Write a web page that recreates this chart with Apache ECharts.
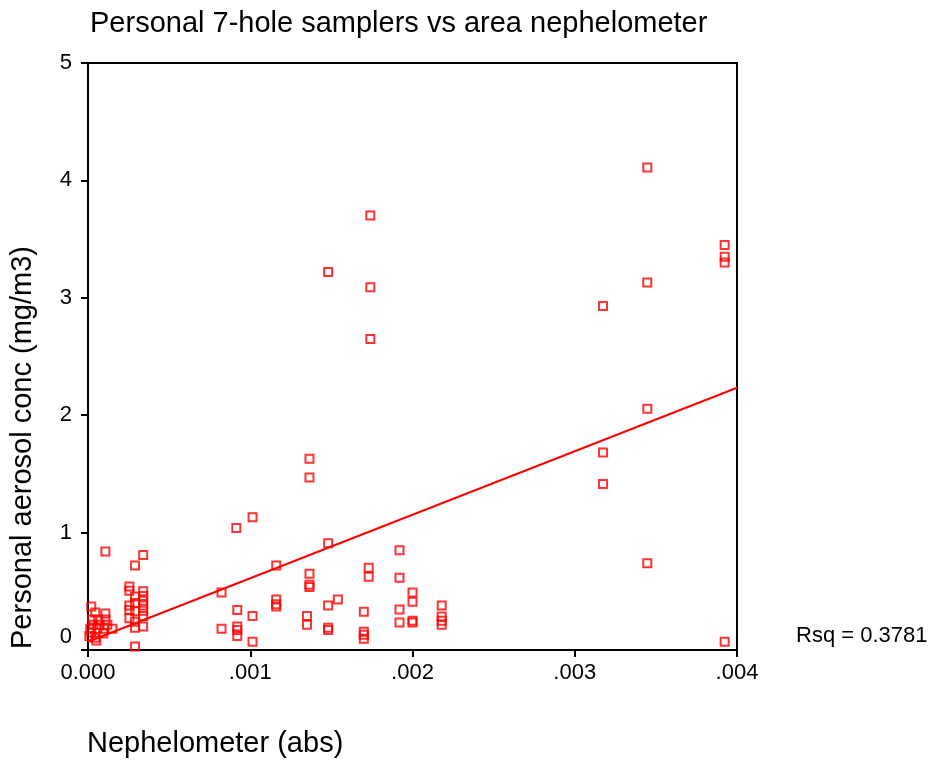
<!DOCTYPE html>
<html>
<head>
<meta charset="utf-8">
<style>
  html, body { margin: 0; padding: 0; background: #fff; }
  #chart { width: 935px; height: 767px; }
</style>
<script src="https://cdn.jsdelivr.net/npm/echarts@6/dist/echarts.min.js"></script>
</head>
<body>
<div id="chart"></div>
<script>
// Nephelometer reading (abs) for each personal sampler
const nephelometer = [
  0.00002, 0.000045, 0.000107, 0.000026, 0.000063, 0.000107, 0.000033, 0.00007, 0.000119,
  0.000014, 0.000057, 0.0001, 0.00015, 0.000008, 0.000045, 0.000051, 0.000094, 0.000107, 0.00002,
  0.000255, 0.000255, 0.000255, 0.000255, 0.000255,
  0.00029, 0.00029, 0.00029, 0.00029, 0.00029, 0.00029, 0.00029,
  0.00034, 0.00034, 0.00034, 0.00034, 0.00034, 0.00034, 0.00034, 0.00034,
  0.000823, 0.000823,
  0.000914, 0.00092, 0.00092, 0.00092, 0.00092,
  0.001014, 0.001014, 0.001014,
  0.00116, 0.00116, 0.00116, 0.00116,
  0.00135, 0.00135,
  0.001365, 0.001365, 0.001365, 0.001365, 0.001365,
  0.00148, 0.00148, 0.00148, 0.00148, 0.00148,
  0.00154,
  0.0017, 0.0017, 0.0017, 0.0017,
  0.00174, 0.00174, 0.00174,
  0.00173, 0.00173,
  0.00192, 0.00192, 0.00192, 0.00192,
  0.002, 0.002, 0.002, 0.002,
  0.00218, 0.00218, 0.00218, 0.00218,
  0.003174, 0.003174, 0.003174,
  0.003447, 0.003447, 0.003447, 0.003447,
  0.003924, 0.003924, 0.003924, 0.003924
];

// Personal aerosol concentration (mg/m3), same order as above
const aerosol = [
  0.37, 0.32, 0.31, 0.26, 0.26, 0.26, 0.215, 0.215, 0.215,
  0.18, 0.18, 0.18, 0.18, 0.12, 0.105, 0.08, 0.14, 0.84, 0.15,
  0.54, 0.505, 0.38, 0.34, 0.27,
  0.72, 0.455, 0.40, 0.33, 0.24, 0.19, 0.03,
  0.81, 0.50, 0.46, 0.42, 0.38, 0.335, 0.29, 0.20,
  0.49, 0.18,
  1.04, 0.34, 0.20, 0.17, 0.12,
  1.13, 0.29, 0.07,
  0.72, 0.43, 0.39, 0.37,
  0.29, 0.215,
  1.63, 1.47, 0.65, 0.556, 0.537,
  3.22, 0.91, 0.38, 0.19, 0.17,
  0.43,
  0.325, 0.155, 0.13, 0.095,
  3.70, 3.09, 2.65,
  0.70, 0.625,
  0.85, 0.615, 0.345, 0.235,
  0.49, 0.41, 0.25, 0.235,
  0.38, 0.285, 0.25, 0.215,
  2.93, 1.683, 1.414,
  4.11, 3.13, 2.055, 0.738,
  3.45, 3.35, 3.30, 0.07
];

// Linear fit: conc = fitIntercept + fitSlope * abs
const fitIntercept = 0.07;
const fitSlope = 541;
const rsq = 0.3781;

const xTicks = [0, 0.001, 0.002, 0.003, 0.004];
const yTicks = [0, 1, 2, 3, 4, 5];

const points = nephelometer.map((x, i) => [x, aerosol[i]]);
const xMin = xTicks[0], xMax = xTicks[xTicks.length - 1];
const fitLine = [
  [xMin, fitIntercept + fitSlope * xMin],
  [xMax, fitIntercept + fitSlope * xMax]
];

const FONT = 'Liberation Sans, Arial, Helvetica, sans-serif';
const chart = echarts.init(document.getElementById('chart'), null, { renderer: 'canvas' });

chart.setOption({
  animation: false,
  backgroundColor: '#fff',
  title: {
    text: 'Personal 7-hole samplers vs area nephelometer',
    left: 85,
    top: 4,
    textStyle: { fontFamily: FONT, fontSize: 29, fontWeight: 'normal', color: '#000' }
  },
  grid: {
    left: 88, right: 198, top: 63, bottom: 117,
    show: true, borderColor: '#000', borderWidth: 2, backgroundColor: 'transparent'
  },
  xAxis: {
    type: 'value',
    min: xMin, max: xMax, interval: 0.001,
    axisLine: { show: true, onZero: false, lineStyle: { color: '#000', width: 2 } },
    axisTick: { show: true, length: 7, lineStyle: { color: '#000', width: 2 } },
    splitLine: { show: false },
    axisLabel: {
      margin: 12,
      fontFamily: FONT, fontSize: 22, color: '#000',
      formatter: v => (v === 0 ? '0.000' : v.toFixed(3).replace(/^0/, ''))
    }
  },
  yAxis: {
    type: 'value',
    min: yTicks[0], max: yTicks[yTicks.length - 1], interval: 1,
    axisLine: { show: true, onZero: false, lineStyle: { color: '#000', width: 2 } },
    axisTick: { show: true, length: 7, lineStyle: { color: '#000', width: 2 } },
    splitLine: { show: false },
    axisLabel: {
      margin: 16,
      fontFamily: FONT, fontSize: 22, color: '#000',
      formatter: v => (v === 0 ? '{zero|0}' : String(v)),
      rich: {
        zero: { fontFamily: FONT, fontSize: 22, color: '#000', padding: [0, 0, 27, 0] }
      }
    }
  },
  graphic: [
    {
      // y-axis title, reading bottom to top from the axis origin
      type: 'text', x: 23, y: 649, rotation: Math.PI / 2,
      style: {
        text: 'Personal aerosol conc (mg/m3)', fontFamily: FONT, fontSize: 29, fill: '#000',
        textAlign: 'left', textVerticalAlign: 'middle'
      }
    },
    {
      type: 'text', left: 87, top: 729,
      style: { text: 'Nephelometer (abs)', fontFamily: FONT, fontSize: 29, fill: '#000' }
    },
    {
      type: 'text', left: 796, top: 625,
      style: { text: 'Rsq = ' + rsq.toFixed(4), fontFamily: FONT, fontSize: 22, fill: '#000' }
    }
  ],
  series: [
    {
      type: 'line',
      data: fitLine,
      symbol: 'none',
      lineStyle: { color: '#ff0000', width: 2 },
      z: 2
    },
    {
      type: 'scatter',
      data: points,
      symbol: 'rect',
      symbolSize: 8,
      itemStyle: { color: 'rgba(255,255,255,0)', borderColor: '#ff0000', borderWidth: 2 },
      z: 3
    }
  ]
});
</script>
</body>
</html>
